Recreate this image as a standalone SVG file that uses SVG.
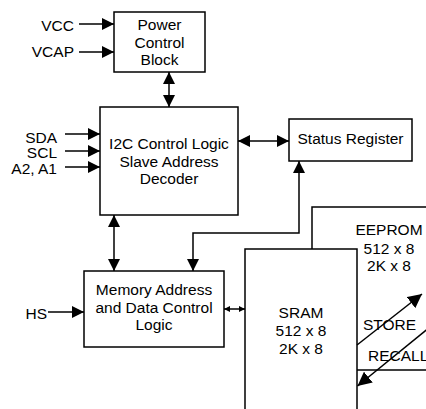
<svg xmlns="http://www.w3.org/2000/svg" width="426" height="409" viewBox="0 0 426 409">
<style>
.box{fill:#fff;stroke:#000;stroke-width:1.5}
.ln{fill:none;stroke:#000;stroke-width:1.5}
text{font-family:"Liberation Sans",Arial,sans-serif;font-size:15.5px;fill:#000}
.c{text-anchor:middle}
.r{text-anchor:end}
</style>
<defs>
<marker id="ah" markerWidth="12" markerHeight="12" refX="12" refY="6" orient="auto-start-reverse" markerUnits="userSpaceOnUse"><path d="M0,0 L12,6 L0,12 z" fill="#000"/></marker>
<marker id="sh" markerWidth="6" markerHeight="6" refX="6" refY="3" orient="auto-start-reverse" markerUnits="userSpaceOnUse"><path d="M0,0 L6,3 L0,6 z" fill="#000"/></marker>
<marker id="bh" markerWidth="14" markerHeight="14" refX="14" refY="7" orient="auto" markerUnits="userSpaceOnUse"><path d="M0,0 L14,7 L0,14 z" fill="#000"/></marker>
</defs>
<g id="power">
<rect class="box" x="114" y="12" width="91" height="60"/>
<text class="c" x="159.5" y="30">Power</text>
<text class="c" x="159.5" y="48">Control</text>
<text class="c" x="159.5" y="65">Block</text>
</g>
<g id="i2c">
<rect class="box" x="100" y="107" width="138" height="108"/>
<text class="c" x="169" y="149">I2C Control Logic</text>
<text class="c" x="169" y="166.5">Slave Address</text>
<text class="c" x="169" y="184">Decoder</text>
</g>
<g id="status">
<rect class="box" x="289" y="119" width="123" height="42"/>
<text class="c" x="350.5" y="144">Status Register</text>
</g>
<g id="memory">
<rect class="box" x="84" y="271" width="140" height="76"/>
<text class="c" x="154" y="295">Memory Address</text>
<text class="c" x="154" y="313">and Data Control</text>
<text class="c" x="154" y="330">Logic</text>
</g>
<g id="eeprom">
<path class="ln" d="M312,249 V207 H430 M357,370 H430"/>
<text class="c" x="389" y="235">EEPROM</text>
<text class="c" x="389" y="254">512 x 8</text>
<text class="c" x="389" y="271">2K x 8</text>
</g>
<g id="sram">
<path class="ln" d="M245,420 V249 H357 V420"/>
<text class="c" x="301" y="318">SRAM</text>
<text class="c" x="301" y="336">512 x 8</text>
<text class="c" x="301" y="354">2K x 8</text>
</g>
<g id="labels">
<text class="r" x="74" y="30.5">VCC</text>
<text class="r" x="74" y="57">VCAP</text>
<text class="r" x="57" y="143">SDA</text>
<text class="r" x="57" y="158">SCL</text>
<text class="r" x="57" y="174">A2, A1</text>
<text class="r" x="47" y="319">HS</text>
<text x="363" y="330">STORE</text>
<text x="368" y="361">RECALL</text>
</g>
<g id="connectors">
<line class="ln" x1="79" y1="24" x2="114" y2="24" marker-end="url(#ah)"/>
<line class="ln" x1="79" y1="52" x2="114" y2="52" marker-end="url(#ah)"/>
<line class="ln" x1="65" y1="134" x2="100" y2="134" marker-end="url(#ah)"/>
<line class="ln" x1="65" y1="151" x2="100" y2="151" marker-end="url(#ah)"/>
<line class="ln" x1="65" y1="167" x2="100" y2="167" marker-end="url(#ah)"/>
<line class="ln" x1="48" y1="312" x2="84" y2="312" marker-end="url(#ah)"/>
<line class="ln" x1="169" y1="72" x2="169" y2="107" marker-start="url(#ah)" marker-end="url(#ah)"/>
<line class="ln" x1="238" y1="141" x2="289" y2="141" marker-start="url(#ah)" marker-end="url(#ah)"/>
<line class="ln" x1="114" y1="215" x2="114" y2="271" marker-start="url(#ah)" marker-end="url(#ah)"/>
<path class="ln" d="M299,161 V233 H193 V271" marker-start="url(#ah)" marker-end="url(#ah)"/>
<line class="ln" x1="224" y1="309" x2="245" y2="309" marker-start="url(#sh)" marker-end="url(#sh)"/>
<line class="ln" x1="357" y1="345" x2="422" y2="294" marker-end="url(#bh)"/>
<line class="ln" x1="430" y1="327" x2="357.5" y2="386" marker-end="url(#bh)"/>
</g>
</svg>
